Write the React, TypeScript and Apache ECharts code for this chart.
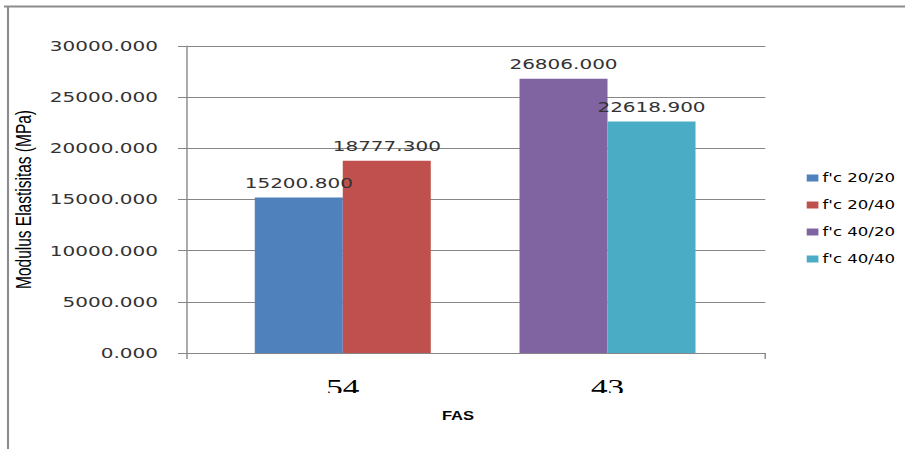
import React, { useEffect, useRef } from "react";
import * as echarts from "echarts";

// Categories (FAS) and the modulus of elasticity per mix, in MPa
const categories = ["54", "43"];
const seriesNames = ["f'c 20/20", "f'c 20/40", "f'c 40/20", "f'c 40/40"];
const fc2020 = [15200.8, null];
const fc2040 = [18777.3, null];
const fc4020 = [null, 26806.0];
const fc4040 = [null, 22618.9];
const seriesColors = ["#4F81BD", "#C0504D", "#8064A2", "#4BACC6"];
const Y_MIN = 0;
const Y_MAX = 30000;
const Y_STEP = 5000;

// The chart is drawn narrower and stretched horizontally to its final width
const W = 905;
const H = 449;
const S = 1.38;
const IW = W / S;
const px = (x: number) => x / S;

const toData = (arr: (number | null)[]) => arr.map((v) => (v == null ? "-" : v));

export default function App() {
  const ref = useRef<HTMLDivElement>(null);

  useEffect(() => {
    if (!ref.current) return;
    const chart = echarts.init(ref.current, undefined, { renderer: "svg" });
    const axisGray = "#868686";
    const valueLabel = {
      show: true,
      position: "top",
      distance: 7,
      fontFamily: "DejaVu Sans",
      fontSize: 14.5,
      color: "#333",
      formatter: (p: any) => Number(p.value).toFixed(3),
    };
    const groups = [fc2020, fc2040, fc4020, fc4040];
    const stacks = ["left", "right", "left", "right"];

    chart.setOption({
      animation: false,
      backgroundColor: "#fff",
      grid: [
        { left: px(186), right: IW - px(765), top: 46, bottom: 96 },
        { left: px(210.4), right: IW - px(739.6), top: 46, bottom: 96 },
      ],
      xAxis: [
        {
          type: "value",
          gridIndex: 0,
          min: 0,
          max: 1,
          interval: 1,
          axisLine: { show: true, lineStyle: { color: axisGray, width: 1 } },
          axisTick: { show: true, length: 6, lineStyle: { color: axisGray } },
          axisLabel: { show: false },
          splitLine: { show: false },
        },
        {
          type: "category",
          gridIndex: 1,
          data: categories,
          axisLine: { show: false },
          axisTick: { show: false },
          axisLabel: {
            margin: 22,
            fontFamily: "Liberation Serif",
            fontSize: 24,
            color: "#000",
          },
        },
      ],
      yAxis: [
        {
          type: "value",
          gridIndex: 0,
          min: Y_MIN,
          max: Y_MAX,
          interval: Y_STEP,
          axisLine: { show: true, lineStyle: { color: axisGray, width: 1 } },
          axisTick: { show: true, length: px(8), lineStyle: { color: axisGray } },
          splitLine: { show: true, lineStyle: { color: axisGray, width: 1 } },
          axisLabel: {
            margin: px(28),
            fontFamily: "DejaVu Sans",
            fontSize: 14.5,
            color: "#333",
            formatter: (v: number) => v.toFixed(3),
          },
          name: "Modulus Elastisitas (MPa)",
          nameLocation: "middle",
          nameGap: px(140),
          nameTextStyle: {
            fontFamily: "Liberation Sans",
            fontSize: 15.5,
            color: "#000",
          },
        },
        {
          type: "value",
          gridIndex: 1,
          min: Y_MIN,
          max: Y_MAX,
          show: false,
          splitLine: { show: false },
        },
      ],
      legend: {
        orient: "vertical",
        left: px(806.7),
        top: 170,
        padding: 0,
        icon: "rect",
        itemWidth: px(11.7),
        itemHeight: 7,
        itemGap: 11,
        data: seriesNames,
        textStyle: {
          fontFamily: "DejaVu Sans",
          fontSize: 12,
          color: "#000",
          lineHeight: 16,
          padding: [0, 0, 0, -2],
        },
      },
      series: groups.map((arr, i) => ({
        name: seriesNames[i],
        type: "bar",
        xAxisIndex: 1,
        yAxisIndex: 1,
        stack: stacks[i],
        data: toData(arr),
        barWidth: px(88),
        barGap: "0%",
        itemStyle: { color: seriesColors[i] },
        label: valueLabel,
      })),
      graphic: [
        {
          type: "line",
          shape: { x1: px(4), y1: 6.5, x2: IW, y2: 6.5 },
          style: { stroke: "#8c8c8c", lineWidth: 2 },
        },
        {
          type: "line",
          shape: { x1: px(8), y1: 6, x2: px(8), y2: H },
          style: { stroke: "#8c8c8c", lineWidth: 1.5 },
        },
        {
          type: "rect",
          z: 100,
          shape: { x: px(300), y: 393, width: px(360), height: 8 },
          style: { fill: "#fff" },
        },
        {
          type: "text",
          x: px(458),
          y: 415.5,
          style: {
            text: "FAS",
            fontFamily: "Liberation Sans",
            fontWeight: "bold",
            fontSize: 12,
            fill: "#000",
            textAlign: "center",
            textVerticalAlign: "middle",
          },
        },
      ],
    });

    return () => chart.dispose();
  }, []);

  return (
    <div
      style={{
        position: "fixed",
        left: 0,
        top: 0,
        width: W,
        height: H,
        overflow: "hidden",
        background: "#fff",
      }}
    >
      <div
        ref={ref}
        style={{
          width: IW,
          height: H,
          transform: `scaleX(${S})`,
          transformOrigin: "0 0",
        }}
      />
    </div>
  );
}
